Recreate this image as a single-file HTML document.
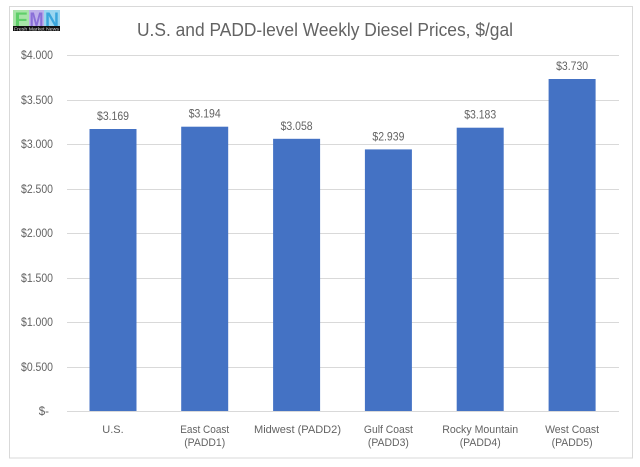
<!DOCTYPE html>
<html>
<head>
<meta charset="utf-8">
<style>
html,body{margin:0;padding:0;background:#fff;}
svg{display:block;}
text{font-family:"Liberation Sans",Arial,sans-serif;}
</style>
</head>
<body>
<svg width="640" height="467" viewBox="0 0 640 467" xmlns="http://www.w3.org/2000/svg">
<rect x="0" y="0" width="640" height="467" fill="#fff"/>
<rect x="9.5" y="6.5" width="623" height="451.5" fill="#fff" stroke="#D9D9D9" stroke-width="1"/>

<!-- logo -->
<rect x="13" y="10" width="16" height="16" fill="#a8e4a8"/>
<rect x="29" y="10" width="15" height="16" fill="#beb0ea"/>
<rect x="44" y="10" width="16" height="16" fill="#9ad6f0"/>
<text x="21" y="26" font-size="19" font-weight="bold" fill="#5fcf6a" text-anchor="middle" textLength="13" lengthAdjust="spacingAndGlyphs">F</text>
<text x="36.5" y="26" font-size="19" font-weight="bold" fill="#8a6fd8" text-anchor="middle" textLength="14" lengthAdjust="spacingAndGlyphs">M</text>
<text x="52" y="26" font-size="19" font-weight="bold" fill="#3aa6dc" text-anchor="middle" textLength="14" lengthAdjust="spacingAndGlyphs">N</text>
<rect x="13" y="26" width="47" height="5" fill="#111"/>
<text x="36.5" y="30.5" font-size="4.5" fill="#ddd" text-anchor="middle" textLength="45" lengthAdjust="spacingAndGlyphs">Fresh Market News</text>

<!-- title -->
<text x="137" y="36" font-size="18" fill="#636363" textLength="376" lengthAdjust="spacingAndGlyphs">U.S. and PADD-level Weekly Diesel Prices, $/gal</text>

<!-- gridlines -->
<g stroke="#D9D9D9" stroke-width="1">
<line x1="67" x2="619" y1="55.5" y2="55.5"/>
<line x1="67" x2="619" y1="100.5" y2="100.5"/>
<line x1="67" x2="619" y1="144.5" y2="144.5"/>
<line x1="67" x2="619" y1="189.5" y2="189.5"/>
<line x1="67" x2="619" y1="233.5" y2="233.5"/>
<line x1="67" x2="619" y1="278.5" y2="278.5"/>
<line x1="67" x2="619" y1="322.5" y2="322.5"/>
<line x1="67" x2="619" y1="367.5" y2="367.5"/>
<line x1="67" x2="619" y1="411.5" y2="411.5"/>
</g>

<!-- y labels -->
<g font-size="11.5" fill="#636363" text-anchor="end">
<text x="53" y="59" textLength="32" lengthAdjust="spacingAndGlyphs">$4.000</text>
<text x="53" y="104" textLength="32" lengthAdjust="spacingAndGlyphs">$3.500</text>
<text x="53" y="148" textLength="32" lengthAdjust="spacingAndGlyphs">$3.000</text>
<text x="53" y="193" textLength="32" lengthAdjust="spacingAndGlyphs">$2.500</text>
<text x="53" y="237" textLength="32" lengthAdjust="spacingAndGlyphs">$2.000</text>
<text x="53" y="282" textLength="32" lengthAdjust="spacingAndGlyphs">$1.500</text>
<text x="53" y="326" textLength="32" lengthAdjust="spacingAndGlyphs">$1.000</text>
<text x="53" y="371" textLength="32" lengthAdjust="spacingAndGlyphs">$0.500</text>
<text x="49" y="415">$-</text>
</g>

<!-- bars -->
<g fill="#4472C4">
<rect x="89.5" y="129" width="47" height="282"/>
<rect x="181.2" y="126.7" width="47" height="284.3"/>
<rect x="273.1" y="138.8" width="47" height="272.2"/>
<rect x="364.9" y="149.4" width="47" height="261.6"/>
<rect x="456.7" y="127.7" width="47" height="283.3"/>
<rect x="548.6" y="79" width="47" height="332"/>
</g>

<!-- value labels -->
<g font-size="12" fill="#636363" text-anchor="middle">
<text x="113" y="120" textLength="32" lengthAdjust="spacingAndGlyphs">$3.169</text>
<text x="204.7" y="117.7" textLength="32" lengthAdjust="spacingAndGlyphs">$3.194</text>
<text x="296.6" y="129.8" textLength="32" lengthAdjust="spacingAndGlyphs">$3.058</text>
<text x="388.4" y="140.4" textLength="32" lengthAdjust="spacingAndGlyphs">$2.939</text>
<text x="480.2" y="118.7" textLength="32" lengthAdjust="spacingAndGlyphs">$3.183</text>
<text x="572.1" y="70" textLength="32" lengthAdjust="spacingAndGlyphs">$3.730</text>
</g>

<!-- x labels -->
<g font-size="11" fill="#636363" text-anchor="middle">
<text x="113" y="433">U.S.</text>
<text x="204.7" y="433" textLength="49" lengthAdjust="spacingAndGlyphs">East Coast</text>
<text x="204.7" y="446" textLength="41" lengthAdjust="spacingAndGlyphs">(PADD1)</text>
<text x="297.5" y="433" textLength="87" lengthAdjust="spacingAndGlyphs">Midwest (PADD2)</text>
<text x="388.4" y="433" textLength="49" lengthAdjust="spacingAndGlyphs">Gulf Coast</text>
<text x="388.4" y="446" textLength="41" lengthAdjust="spacingAndGlyphs">(PADD3)</text>
<text x="480.2" y="433" textLength="76" lengthAdjust="spacingAndGlyphs">Rocky Mountain</text>
<text x="480.2" y="446" textLength="41" lengthAdjust="spacingAndGlyphs">(PADD4)</text>
<text x="572.1" y="433" textLength="54" lengthAdjust="spacingAndGlyphs">West Coast</text>
<text x="572.1" y="446" textLength="41" lengthAdjust="spacingAndGlyphs">(PADD5)</text>
</g>
</svg>
</body>
</html>
